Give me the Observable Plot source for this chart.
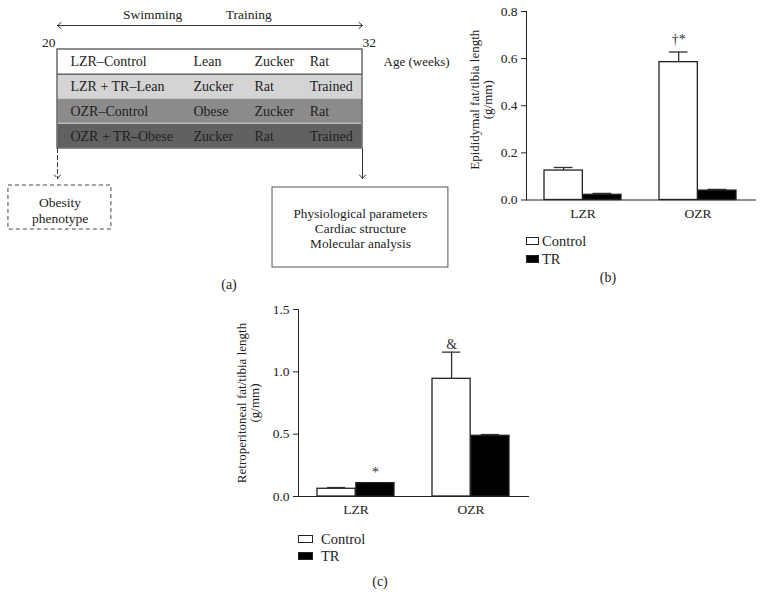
<!DOCTYPE html>
<html><head><meta charset="utf-8">
<script src="https://cdn.jsdelivr.net/npm/d3@7"></script>
<script src="https://cdn.jsdelivr.net/npm/@observablehq/plot@0.6"></script>
<style>
body{margin:0;background:#fff;}
#fig{position:relative;width:764px;height:608px;font-family:"Liberation Serif",serif;color:#222;overflow:hidden;background:#fff}
.abs{position:absolute}
.sw{position:absolute;border:1px solid #222;box-sizing:border-box}
.lt{position:absolute;font-size:14.5px;line-height:1;transform:translateY(-50%);white-space:nowrap}
.pl{position:absolute;font-size:14px;line-height:1;transform:translate(-50%,-50%)}
</style></head><body><div id="fig"></div>
<script>
// ---------- data ----------
const groups = ["LZR", "OZR"];
const series = ["Control", "TR"];
const seriesFill = ["white", "black"];

// (b) Epididymal fat / tibia length (g/mm)
const epiControl = [0.125, 0.585];
const epiControlErr = [0.013, 0.043];
const epiTR = [0.022, 0.040];
const epiTRErr = [0.006, 0.005];
const epiTicks = [0, 0.2, 0.4, 0.6, 0.8];
const epiNotes = [{group: "OZR", series: "Control", y: 0.68, text: "†*"}];

// (c) Retroperitoneal fat / tibia length (g/mm)
const retroControl = [0.062, 0.944];
const retroControlErr = [0.010, 0.214];
const retroTR = [0.107, 0.487];
const retroTRErr = [0.004, 0.010];
const retroTicks = [0, 0.5, 1.0, 1.5];
const retroNotes = [
  {group: "LZR", series: "TR", y: 0.19, text: "*"},
  {group: "OZR", series: "Control", y: 1.22, text: "&"}
];

// (a) protocol diagram
const ageWeeks = [20, 32];
const phaseLabels = ["Swimming", "Training"];
const protocolGroups = ["LZR–Control", "LZR + TR–Lean", "OZR–Control", "OZR + TR–Obese"];
const protocolCol2 = ["Lean", "Zucker", "Obese", "Zucker"];
const protocolCol3 = ["Zucker", "Rat", "Zucker", "Rat"];
const protocolCol4 = ["Rat", "Trained", "Rat", "Trained"];
const rowFills = ["#ffffff", "#d4d4d4", "#8b8b8b", "#616161"];
const leftBoxText = ["Obesity", "phenotype"];
const rightBoxText = ["Physiological parameters", "Cardiac structure", "Molecular analysis"];

const fig = document.getElementById("fig");
function place(node, left, top) {
  const d = document.createElement("div");
  d.className = "abs";
  d.style.left = left + "px"; d.style.top = top + "px";
  d.appendChild(node); fig.appendChild(d); return d;
}
function html(cls, text, left, top, extra) {
  const d = document.createElement("div");
  d.className = cls; d.textContent = text;
  d.style.left = left + "px"; d.style.top = top + "px";
  if (extra) Object.assign(d.style, extra);
  fig.appendChild(d); return d;
}

// ---------- panel (a) ----------
{
  const rowTop = 49, rowH = 24.75;
  const rows = protocolGroups.map((g, i) => ({
    i, g, c2: protocolCol2[i], c3: protocolCol3[i], c4: protocolCol4[i], fill: rowFills[i],
    y1: rowTop + i * rowH, y2: rowTop + (i + 1) * rowH, yc: rowTop + (i + 0.5) * rowH
  }));
  const tableBottom = rowTop + 4 * rowH;
  const mid = (ageWeeks[0] + ageWeeks[1]) / 2;
  const cols = [20.51, 25.35, 27.75, 29.92];
  const textStyle = {fontSize: 14, fill: "#222", textAnchor: "start"};
  const a = Plot.plot({
    width: 460, height: 300, margin: 0,
    style: {fontFamily: "Liberation Serif", fontSize: "13.5px", background: "transparent", color: "#222", overflow: "visible"},
    x: {domain: ageWeeks, range: [57, 362], axis: null},
    y: {domain: [0, 300], range: [0, 300], axis: null},
    marks: [
      Plot.arrow([{x1: mid, x2: ageWeeks[0]}, {x1: mid, x2: ageWeeks[1]}],
        {x1: "x1", x2: "x2", y1: 25, y2: 25, stroke: "#333", strokeWidth: 1, headLength: 7, headAngle: 80}),
      Plot.text(phaseLabels, {x: [23.74, 27.52], y: 14, text: d => d, fontSize: 13.5, fill: "#222"}),
      Plot.text([ageWeeks[0]], {x: d => d, y: 42, text: d => String(d), dx: -2, fontSize: 13.5, fill: "#222", textAnchor: "end"}),
      Plot.text([ageWeeks[1]], {x: d => d, y: 42, text: d => String(d), dx: 0, fontSize: 13.5, fill: "#222", textAnchor: "start"}),
      Plot.rect(rows, {x1: ageWeeks[0], x2: ageWeeks[1], y1: "y1", y2: "y2", fill: "fill", stroke: "#c8c8c8", strokeWidth: 1}),
      Plot.ruleY([rows[1].y1], {x1: ageWeeks[0], x2: ageWeeks[1], stroke: "#444", strokeWidth: 1}),
      Plot.rect([0], {x1: ageWeeks[0], x2: ageWeeks[1], y1: rowTop, y2: tableBottom, fill: "none", stroke: "#555", strokeWidth: 1.2}),
      Plot.text(rows, {x: cols[0], y: "yc", text: "g", ...textStyle}),
      Plot.text(rows, {x: cols[1], y: "yc", text: "c2", ...textStyle}),
      Plot.text(rows, {x: cols[2], y: "yc", text: "c3", ...textStyle}),
      Plot.text(rows, {x: cols[3], y: "yc", text: "c4", ...textStyle}),
      Plot.text(["Age (weeks)"], {x: 32.83, y: 61, text: d => d, fontSize: 13, fill: "#222", textAnchor: "start"}),
      Plot.arrow([0], {x1: ageWeeks[0], x2: ageWeeks[0], y1: tableBottom, y2: 178, stroke: "#333",
        strokeDasharray: "4,3", strokeWidth: 1, headLength: 7, headAngle: 80}),
      Plot.arrow([0], {x1: ageWeeks[1], x2: ageWeeks[1], y1: tableBottom, y2: 178, stroke: "#333",
        strokeWidth: 1, headLength: 7, headAngle: 80}),
      Plot.rect([0], {x1: 18.07, x2: 22.12, y1: 185, y2: 229, fill: "none", stroke: "#444",
        strokeDasharray: "4,3", strokeWidth: 1}),
      Plot.text(leftBoxText, {x: 20.1, y: [202, 218], text: d => d, fontSize: 13.5, fill: "#222"}),
      Plot.rect([0], {x1: 28.46, x2: 35.38, y1: 187, y2: 267, fill: "none", stroke: "#555", strokeWidth: 1}),
      Plot.text(rightBoxText, {x: 31.92, y: [213, 228, 243], text: d => d, fontSize: 13.3, fill: "#222"})
    ]
  });
  place(a, 0, 0);
}

// ---------- bar chart helper ----------
function barChart({cVals, cErr, tVals, tErr, ticks, label, notes, width, height, ml, mr, mt, mb, labelDx, labelDy}) {
  const rows = groups.flatMap((g, i) => [
    {group: g, series: series[0], value: cVals[i], err: cErr[i]},
    {group: g, series: series[1], value: tVals[i], err: tErr[i]}
  ]);
  const pi = 0.33, po = 0.157;
  const step = (width - ml - mr) / (groups.length - pi + 2 * po);
  const bw = step * (1 - pi), half = bw / 2, q = bw / 4, cap = 19;
  const ctrl = rows.filter(d => d.series === series[0]);
  const tr = rows.filter(d => d.series === series[1]);
  return Plot.plot({
    width, height, marginLeft: ml, marginRight: mr, marginTop: mt, marginBottom: mb,
    style: {fontFamily: "Liberation Serif", fontSize: "13.5px", background: "transparent", color: "#222", overflow: "visible"},
    x: {domain: groups, paddingInner: pi, paddingOuter: po, tickSize: 0, tickPadding: 8, line: true, label: null},
    y: {domain: [ticks[0], ticks[ticks.length - 1]], ticks, tickFormat: d3.format(".1f"), tickSize: 5, tickPadding: 4, line: true, label: null},
    marks: [
      Plot.ruleX(ctrl, {x: "group", y1: "value", y2: d => d.value + d.err, dx: -q, stroke: "#333", strokeWidth: 1.3}),
      Plot.ruleX(tr, {x: "group", y1: "value", y2: d => d.value + d.err, dx: q, stroke: "#333", strokeWidth: 1.3}),
      Plot.tickY(ctrl, {x: "group", y: d => d.value + d.err, insetLeft: q - cap / 2, insetRight: bw - q - cap / 2, stroke: "#333", strokeWidth: 1.3}),
      Plot.tickY(tr, {x: "group", y: d => d.value + d.err, insetLeft: bw - q - cap / 2, insetRight: q - cap / 2, stroke: "#333", strokeWidth: 1.3}),
      Plot.barY(ctrl, {x: "group", y: "value", fill: seriesFill[0], stroke: "#222", strokeWidth: 1.3, insetRight: half}),
      Plot.barY(tr, {x: "group", y: "value", fill: seriesFill[1], stroke: "#222", strokeWidth: 1.3, insetLeft: half}),
      Plot.text(notes.filter(d => d.series === series[0]), {x: "group", y: "y", text: "text", dx: -q, fontSize: 14, fill: "#333"}),
      Plot.text(notes.filter(d => d.series === series[1]), {x: "group", y: "y", text: "text", dx: q, fontSize: 14, fill: "#333"}),
      Plot.text([label], {frameAnchor: "left", textAnchor: "middle", rotate: -90, dx: labelDx, dy: labelDy,
        fontSize: 13, fill: "#222", lineAnchor: "middle"})
    ]
  });
}

function legend(left, top, sw, sh, gap, textDx) {
  series.forEach((s, i) => {
    const b = document.createElement("div");
    b.className = "sw";
    Object.assign(b.style, {left: left + "px", top: (top + i * gap) + "px", width: sw + "px", height: sh + "px", background: seriesFill[i]});
    fig.appendChild(b);
    html("lt", s, left + textDx, top + i * gap + sh / 2);
  });
}

// ---------- panel (b) ----------
place(barChart({cVals: epiControl, cErr: epiControlErr, tVals: epiTR, tErr: epiTRErr, ticks: epiTicks,
  label: "Epididymal fat/tibia length\n(g/mm)", notes: epiNotes,
  width: 324, height: 230, ml: 86, mr: 9, mt: 11, mb: 30.5, labelDx: -45, labelDy: -6}), 440, 0);
legend(526, 237, 13, 8, 18, 16);
html("pl", "(b)", 608, 278);

// ---------- panel (c) ----------
place(barChart({cVals: retroControl, cErr: retroControlErr, tVals: retroTR, tErr: retroTRErr, ticks: retroTicks,
  label: "Retroperitoneal fat/tibia length\n(g/mm)", notes: retroNotes,
  width: 310, height: 236, ml: 78, mr: 2, mt: 19, mb: 30, labelDx: -50, labelDy: 0}), 220, 290);
legend(298, 535, 15, 8, 17, 23);
html("pl", "(c)", 380, 582);

html("pl", "(a)", 229, 285);
</script></body></html>
